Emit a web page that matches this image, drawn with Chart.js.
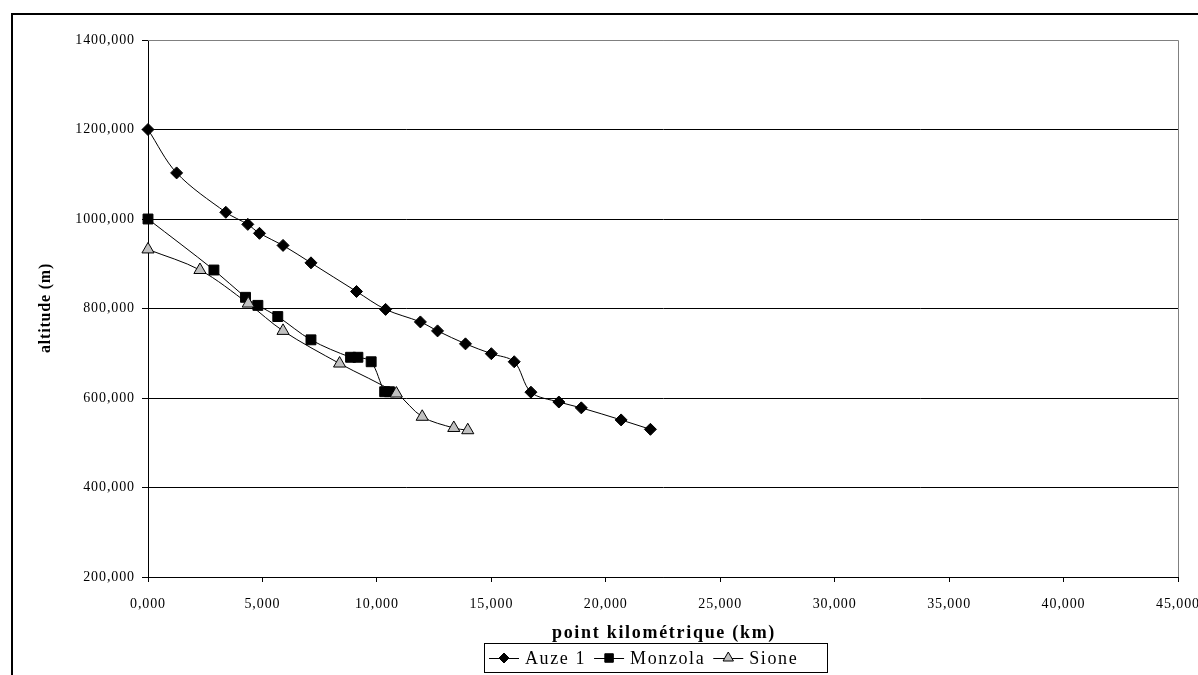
<!DOCTYPE html>
<html>
<head>
<meta charset="utf-8">
<script src="https://cdn.jsdelivr.net/npm/chart.js@4.4.1/dist/chart.umd.min.js"></script>
<style>
  html, body { margin: 0; padding: 0; background: #fff; }
  canvas { display: block; }
</style>
</head>
<body>
<canvas id="profil" width="1198" height="675"></canvas>
<script>
// distances in km, altitudes in m
const auzeKm = [0, 1.25, 3.40, 4.36, 4.87, 5.90, 7.12, 9.11, 10.38, 11.90, 12.65, 13.87, 15.00, 16.00, 16.73, 17.95, 18.93, 20.67, 21.95];
const auzeAlt = [1200, 1103, 1015, 988, 968, 941, 902, 838, 798, 770, 750, 721, 699, 681, 613, 591, 578, 551, 530];
const monzolaKm = [0, 2.88, 4.26, 4.80, 5.67, 7.12, 8.85, 9.17, 9.75, 10.34, 10.55];
const monzolaAlt = [1000, 886, 825, 807, 782, 730, 691, 691, 681, 614, 614];
const sioneKm = [0, 2.27, 4.38, 5.90, 8.37, 10.85, 11.98, 13.36, 13.97];
const sioneAlt = [932, 886, 811, 750, 677, 610, 558, 533, 528];

const seriesNames = ['Auze 1', 'Monzola', 'Sione'];
const xTitle = 'point kilométrique (km)';
const yTitle = 'altitude (m)';

const SERIF = '"Liberation Serif", "Times New Roman", serif';
const fmt = v => Number(v).toFixed(3).replace('.', ',');
const pts = (xs, ys) => xs.map((x, i) => ({ x, y: ys[i] }));

const styles = [
  { pointStyle: 'rectRot', radius: 6, fill: '#000' },
  { pointStyle: 'rect', radius: 7, fill: '#000' },
  { pointStyle: 'triangle', radius: 7, fill: '#c0c0c0' }
];

// frame, titles, legend
const decor = {
  id: 'decor',
  beforeUpdate(chart) { chart.ctx.letterSpacing = '0.9px'; },
  beforeDraw(chart) {
    const ctx = chart.ctx;
    ctx.save();
    ctx.fillStyle = '#fff';
    ctx.fillRect(0, 0, chart.width, chart.height);
    ctx.restore();
    ctx.letterSpacing = '0.9px';
  },
  beforeDatasetsDraw(chart) {
    const { ctx, chartArea: a } = chart;
    ctx.save();
    ctx.strokeStyle = '#808080';
    ctx.lineWidth = 1;
    ctx.beginPath();
    ctx.moveTo(a.left, Math.round(a.top) + 0.5);
    ctx.lineTo(Math.round(a.right) + 0.5, Math.round(a.top) + 0.5);
    ctx.lineTo(Math.round(a.right) + 0.5, a.bottom);
    ctx.stroke();
    ctx.restore();
  },
  afterDraw(chart) {
    const ctx = chart.ctx;
    ctx.save();
    // outer frame
    ctx.strokeStyle = '#000';
    ctx.lineWidth = 2;
    ctx.beginPath();
    ctx.moveTo(12, chart.height + 2);
    ctx.lineTo(12, 14);
    ctx.lineTo(chart.width + 2, 14);
    ctx.stroke();

    // axis titles
    ctx.fillStyle = '#000';
    ctx.textBaseline = 'middle';
    ctx.textAlign = 'center';
    ctx.letterSpacing = '1.7px';
    ctx.font = 'bold 18px ' + SERIF;
    ctx.fillText(xTitle, 664, 633);
    ctx.save();
    ctx.translate(46, 308);
    ctx.rotate(-Math.PI / 2);
    ctx.letterSpacing = '0.8px';
    ctx.font = 'bold 16px ' + SERIF;
    ctx.fillText(yTitle, 0, 0);
    ctx.restore();

    // legend box
    ctx.lineWidth = 1;
    ctx.strokeRect(484.5, 643.5, 343, 29);
    ctx.font = '18px ' + SERIF;
    ctx.letterSpacing = '1.6px';
    ctx.textAlign = 'left';
    const ly = 658;
    let lx = 489;
    seriesNames.forEach((name, i) => {
      ctx.strokeStyle = '#000';
      ctx.lineWidth = 1;
      ctx.beginPath();
      ctx.moveTo(lx, ly + 0.5);
      ctx.lineTo(lx + 30, ly + 0.5);
      ctx.stroke();
      ctx.fillStyle = styles[i].fill;
      Chart.helpers.drawPoint(ctx, {
        pointStyle: styles[i].pointStyle,
        radius: styles[i].radius - 1,
        rotation: 0,
        borderWidth: 1
      }, lx + 15, ly);
      ctx.fillStyle = '#000';
      ctx.fillText(name, lx + 36, ly + 1);
      lx += 36 + ctx.measureText(name).width + 8;
    });
    ctx.restore();
  }
};

const mkSet = (i, xs, ys, order) => ({
  label: seriesNames[i],
  data: pts(xs, ys),
  showLine: true,
  clip: false,
  borderColor: '#000',
  borderWidth: 1,
  tension: 0.33,
  pointStyle: styles[i].pointStyle,
  pointRadius: styles[i].radius,
  pointBackgroundColor: styles[i].fill,
  pointBorderColor: '#000',
  pointBorderWidth: 1,
  order
});

new Chart(document.getElementById('profil'), {
  type: 'scatter',
  data: {
    datasets: [
      mkSet(0, auzeKm, auzeAlt, 3),
      mkSet(1, monzolaKm, monzolaAlt, 2),
      mkSet(2, sioneKm, sioneAlt, 1)
    ]
  },
  options: {
    responsive: false,
    animation: false,
    layout: { padding: { left: 14, top: 40, right: 20, bottom: 0 } },
    plugins: { legend: { display: false }, tooltip: { enabled: false } },
    scales: {
      x: {
        type: 'linear',
        min: 0, max: 45,
        afterFit(s) { s.height = 98; s.paddingLeft = 0; s.paddingRight = 0; },
        border: { display: true, color: '#000', width: 1 },
        grid: { drawOnChartArea: false, color: '#000', tickLength: 5, tickColor: '#000' },
        ticks: {
          stepSize: 5, padding: 14, color: '#000', maxRotation: 0,
          font: { family: SERIF, size: 14 },
          callback: v => fmt(v)
        }
      },
      y: {
        type: 'linear',
        min: 200, max: 1400,
        afterFit(s) { s.width = 134; },
        border: { display: true, color: '#000', width: 1 },
        grid: {
          color: ctx => ctx.tick && ctx.tick.value === 1400 ? '#808080' : '#000',
          tickLength: 6, tickColor: '#000'
        },
        ticks: {
          stepSize: 200, padding: 7, color: '#000',
          font: { family: SERIF, size: 14 },
          callback: v => fmt(v)
        }
      }
    }
  },
  plugins: [decor]
});
</script>
</body>
</html>
